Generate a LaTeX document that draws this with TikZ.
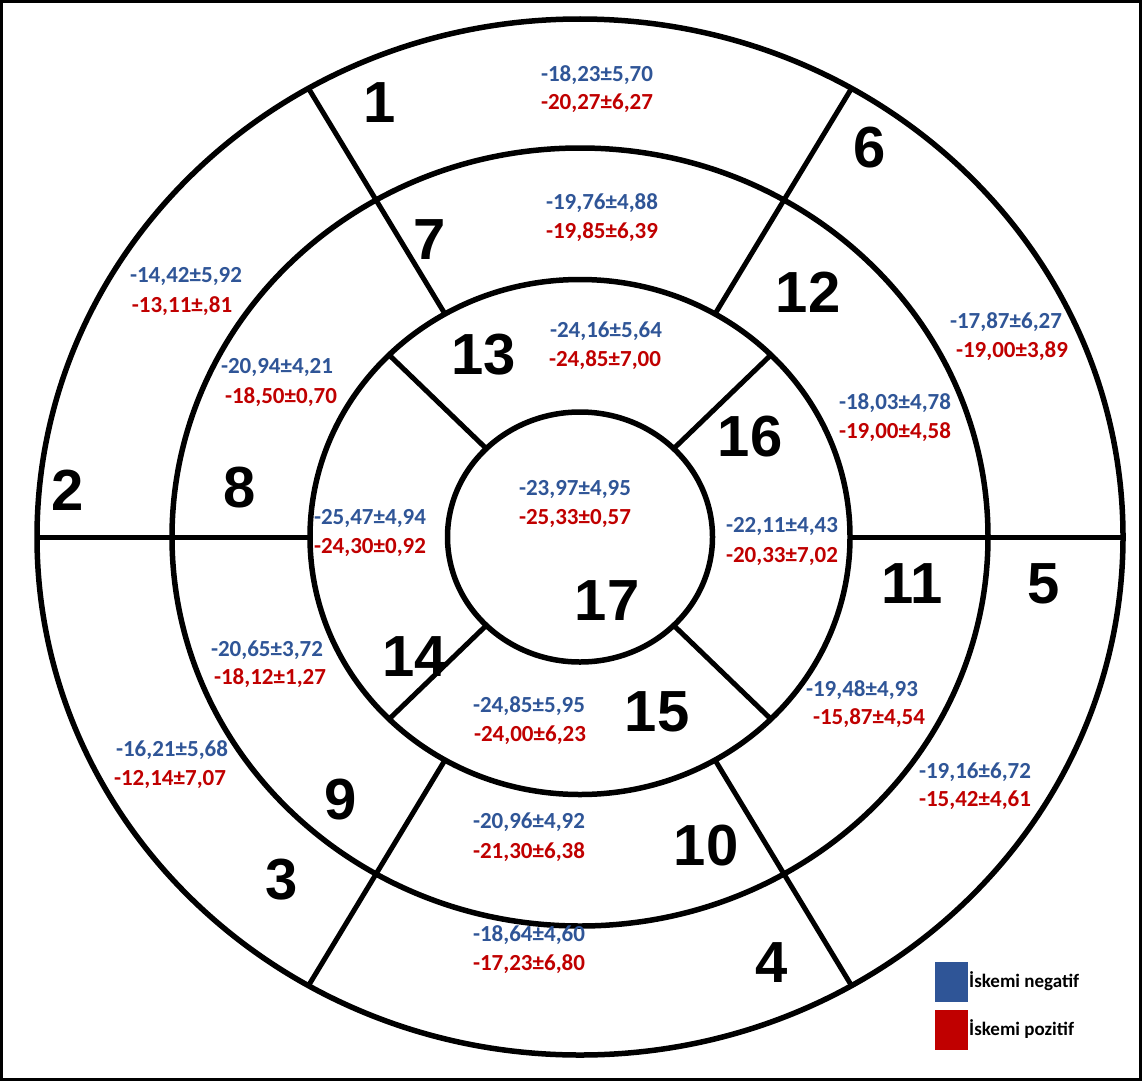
\documentclass[tikz,border=0pt]{standalone}
\usepackage{fontspec}
\setmainfont{Carlito}
\newfontfamily\bigfont{Liberation Sans}
\definecolor{negblue}{RGB}{47,85,151}
\definecolor{posred}{RGB}{192,0,0}
\begin{document}
\begin{tikzpicture}[x=1pt,y=-1pt,
  ring/.style={line width=5.5pt},
  divider/.style={line width=5pt},
  seglabel/.style={font=\bigfont\bfseries\fontsize{58}{58}\selectfont, inner sep=0pt},
  negval/.style={text=negblue, font=\bfseries\fontsize{23}{23}\selectfont, inner sep=0pt},
  posval/.style={text=posred, font=\bfseries\fontsize{23}{23}\selectfont, inner sep=0pt},
  swatch/.style={minimum width=33pt, minimum height=40pt, inner sep=0pt, draw=none},
  legtext/.style={font=\bfseries\fontsize{19}{19}\selectfont, anchor=west, inner sep=0pt}]
\useasboundingbox (0,0) rectangle (1142,1081);
\fill[white] (0,0) rectangle (1142,1081);
\draw[line width=3pt] (1.5,1.5) rectangle (1140.5,1079.5);
\coordinate (c) at (580,537);
% rings
\draw[ring] (c) ellipse [x radius=543pt, y radius=518pt];
\draw[ring] (c) ellipse [x radius=408pt, y radius=389pt];
\draw[ring] (c) ellipse [x radius=270pt, y radius=257.5pt];
\draw[ring] (c) ellipse [x radius=132.5pt, y radius=125pt];
% dividers outer two rings
\foreach \a in {0,60,120,180,240,300}
  \draw[divider, shift={(c)}] (\a:270pt and 257.5pt) -- (\a:543pt and 518pt);
% dividers third ring
\foreach \a in {45,135,225,315}
  \draw[divider, shift={(c)}] (\a:132.5pt and 125pt) -- (\a:270pt and 257.5pt);
% segment labels
\node[seglabel] (s1) at (380,103) {1};
\node[seglabel] (s2) at (68,490) {2};
\node[seglabel] (s3) at (282,880) {3};
\node[seglabel] (s4) at (772,963) {4};
\node[seglabel] (s5) at (1044,584) {5};
\node[seglabel] (s6) at (870,148) {6};
\node[seglabel] (s7) at (430,240) {7};
\node[seglabel] (s8) at (240,488) {8};
\node[seglabel] (s9) at (341,800) {9};
\node[seglabel] (s10) at (706,846) {10};
\node[seglabel] (s11) at (912,584) {11};
\node[seglabel] (s12) at (808,292) {12};
\node[seglabel] (s13) at (484,355) {13};
\node[seglabel] (s14) at (415,657) {14};
\node[seglabel] (s15) at (657,712) {15};
\node[seglabel] (s16) at (750,437) {16};
\node[seglabel] (s17) at (607,601) {17};
% values
\node[negval] (n1) at (597,75) {-18,23±5,70};
\node[posval] (p1) at (597,103) {-20,27±6,27};
\node[negval] (n7) at (602,203) {-19,76±4,88};
\node[posval] (p7) at (602,232) {-19,85±6,39};
\node[negval] (n13) at (606,331) {-24,16±5,64};
\node[posval] (p13) at (605,360) {-24,85±7,00};
\node[negval] (n2) at (186,277) {-14,42±5,92};
\node[posval] (p2) at (182,306) {-13,11±,81};
\node[negval] (n8) at (277,368) {-20,94±4,21};
\node[posval] (p8) at (281,397) {-18,50±0,70};
\node[negval] (n14) at (370,519) {-25,47±4,94};
\node[posval] (p14) at (370,548) {-24,30±0,92};
\node[negval] (n17) at (575,490) {-23,97±4,95};
\node[posval] (p17) at (575,519) {-25,33±0,57};
\node[negval] (n16) at (782,527) {-22,11±4,43};
\node[posval] (p16) at (782,557) {-20,33±7,02};
\node[negval] (n12) at (895,403) {-18,03±4,78};
\node[posval] (p12) at (895,432) {-19,00±4,58};
\node[negval] (n6) at (1006,322) {-17,87±6,27};
\node[posval] (p6) at (1012,351) {-19,00±3,89};
\node[negval] (n9) at (267,650) {-20,65±3,72};
\node[posval] (p9) at (270,678) {-18,12±1,27};
\node[negval] (n3) at (172,750) {-16,21±5,68};
\node[posval] (p3) at (170,780) {-12,14±7,07};
\node[negval] (n15) at (529,706) {-24,85±5,95};
\node[posval] (p15) at (530,735) {-24,00±6,23};
\node[negval] (n10) at (529,822) {-20,96±4,92};
\node[posval] (p10) at (529,852) {-21,30±6,38};
\node[negval] (n11) at (862,690) {-19,48±4,93};
\node[posval] (p11) at (869,718) {-15,87±4,54};
\node[negval] (n5) at (975,772) {-19,16±6,72};
\node[posval] (p5) at (975,800) {-15,42±4,61};
\node[negval] (n4) at (529,935) {-18,64±4,60};
\node[posval] (p4) at (529,964) {-17,23±6,80};
% legend
\node[swatch, fill=negblue] (sw1) at (951,982) {};
\node[swatch, fill=posred] (sw2) at (951,1030) {};
\node[legtext] (l1) at (969,981) {İskemi negatif};
\node[legtext] (l2) at (969,1029) {İskemi pozitif};
\end{tikzpicture}
\end{document}
